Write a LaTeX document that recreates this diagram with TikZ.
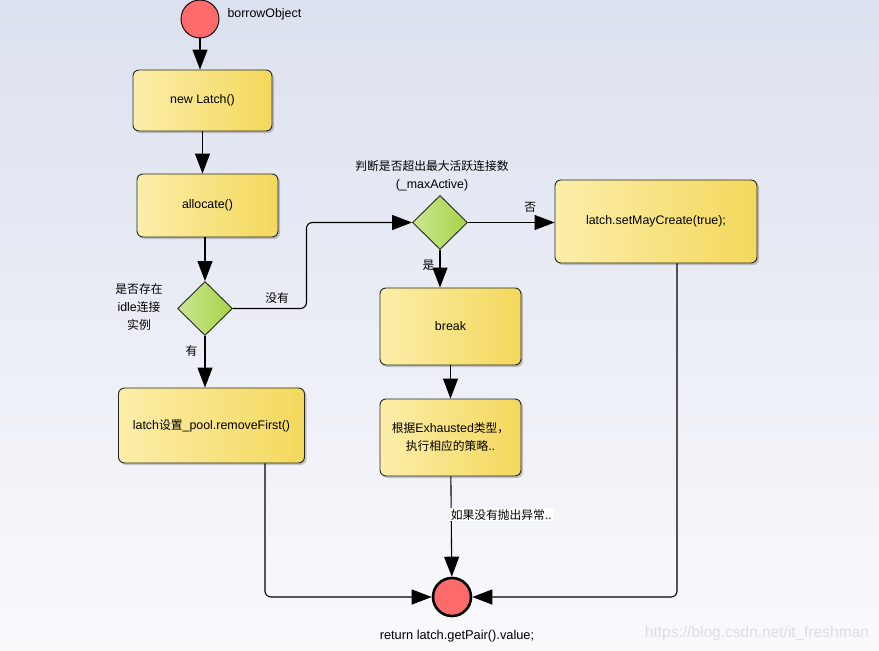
\documentclass[tikz,border=0pt]{standalone}
\usepackage{fontspec}
\setmainfont{Liberation Sans}
\newfontfamily\cjk[Scale=0.95]{Noto Sans CJK SC}
\usetikzlibrary{shapes.geometric}
\usetikzlibrary{positioning}
\usetikzlibrary{calc}
\usetikzlibrary{shadows}
\usetikzlibrary{arrows.meta}
\definecolor{boxl}{RGB}{251,238,170}
\definecolor{boxr}{RGB}{244,216,92}
\definecolor{decl}{RGB}{204,231,146}
\definecolor{decr}{RGB}{166,210,72}
\definecolor{termc}{RGB}{255,106,106}
\definecolor{bgtop}{RGB}{220,225,239}
\definecolor{bgbot}{RGB}{249,250,252}
\tikzset{every picture/.style={line width=1.1pt},
  box/.style={rectangle,rounded corners=6pt,draw=black!85,line width=0.9pt,left color=boxl,right color=boxr,
    drop shadow={shadow xshift=2pt,shadow yshift=-2pt,fill=black,opacity=0.2},align=center},
  decision/.style={diamond,aspect=1,minimum width=55pt,minimum height=54pt,inner sep=0pt,draw=black!85,line width=0.9pt,left color=decl,right color=decr},
  terminal/.style={circle,minimum size=38pt,inner sep=0pt,draw=black,fill=termc},
  arr/.style={-{Triangle[length=20pt,width=15pt]}},
  lbl/.style={align=center,inner sep=1pt}}

\begin{document}
\begin{tikzpicture}[x=1pt, y=-1pt, every node/.style={font=\fontsize{12.4}{15}\selectfont}]
\shade[top color=bgtop, bottom color=bgbot] (0,0) rectangle (879,651);
\useasboundingbox (0,0) rectangle (879,651);

% nodes
\node (start) at (200,19) [terminal, line width=0.9pt] {};
\node (lstart) at (226,14) [anchor=west, lbl] {borrowObject};
\node (new) at (202.5,100.5) [box, minimum width=139pt, minimum height=61pt] {new Latch()};
\node (alloc) at (207.5,205.5) [box, minimum width=141pt, minimum height=63pt] {allocate()};
\node (d1) at (205,308.5) [decision] {};
\node (ld1) at (139,307) [lbl, font=\fontsize{12.4}{18}\selectfont] {{\cjk 是否存在}\\idle{\cjk 连接}\\{\cjk 实例}};
\node (latch) at (211.5,425.5) [box, minimum width=186pt, minimum height=75pt] {latch{\cjk 设置}\_pool.removeFirst()};
\node (d2) at (440,222.5) [decision] {};
\node (ld2) at (432,176) [lbl, font=\fontsize{12.4}{18}\selectfont] {{\cjk 判断是否超出最大活跃连接数}\\(\_maxActive)};
\node (may) at (656,221.5) [box, minimum width=202pt, minimum height=83pt] {latch.setMayCreate(true);};
\node (brk) at (450.5,326.5) [box, minimum width=141pt, minimum height=77pt] {break};
\node (exh) at (450.5,437.5) [box, minimum width=141pt, minimum height=77pt, font=\fontsize{12.4}{18}\selectfont] {{\cjk 根据}Exhausted{\cjk 类型，}\\{\cjk 执行相应的策略}..};
\node (end) at (452,597) [terminal, line width=2.6pt] {};
\node (lend) at (457,636) [lbl, font=\fontsize{12.8}{15}\selectfont] {return latch.getPair().value;};

% connectors
\draw[arr] (start) -- (start.south |- new.north);
\draw[arr] (new) -- (new.south |- alloc.north);
\draw[arr] (d1.north |- alloc.south) -- (d1.north);
\draw[arr] (d1) -- (d1.south |- latch.north) node [pos=0.3, left=6pt, lbl] {\cjk 有};
\draw[arr, rounded corners=6pt] (d1.east) -- ++(73.5,0) node [pos=0.6, above=4pt, lbl] {\cjk 没有} |- (d2.west);
\draw[arr] (d2.east) -- (d2.east -| may.west) node [pos=0.72, above=9pt, lbl] {\cjk 否};
\draw[arr] (d2) -- (d2.south |- brk.north) node [pos=0.4, left=4pt, lbl] {\cjk 是};
\draw[arr] (brk) -- (exh);
\draw[arr] (exh) -- (end) node [pos=0.38, right=-2pt, fill=white, inner sep=1pt] {{\cjk 如果没有抛出异常}..};
\draw[arr, rounded corners=6pt] ([xshift=53.5pt]latch.south) |- (end.west);
\draw[arr, rounded corners=6pt] ([xshift=21pt]may.south) |- (end.east);

\node (wm) at (757,633) [lbl, text=black!13, font=\fontsize{15.5}{18}\selectfont] {https://blog.csdn.net/it\_freshman};
\end{tikzpicture}
\end{document}
